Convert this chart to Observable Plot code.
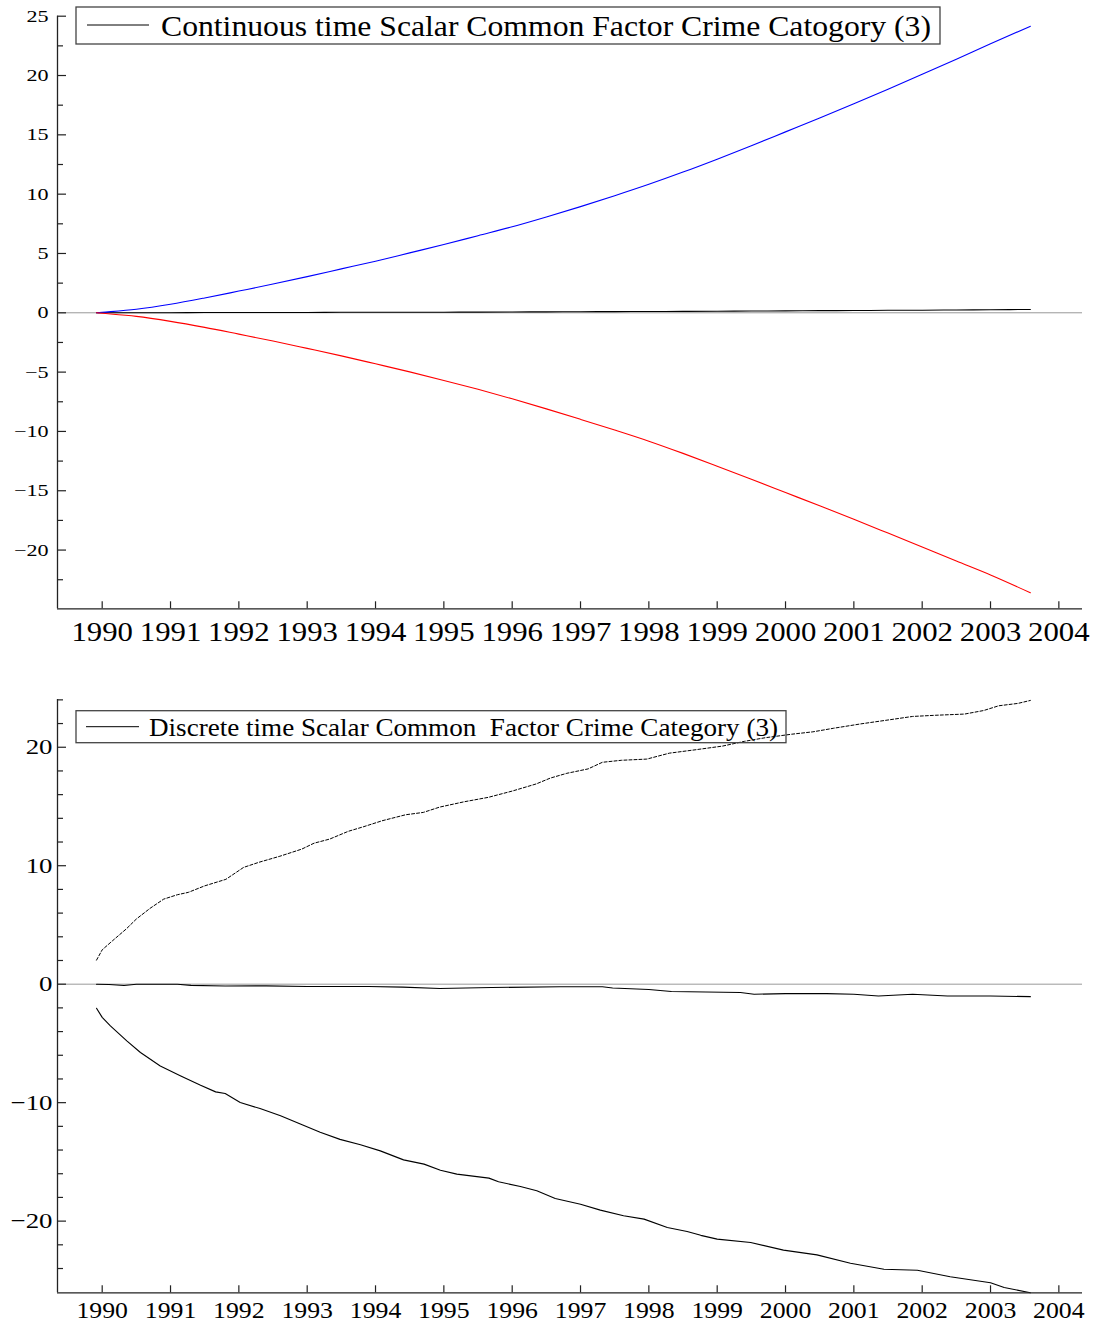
<!DOCTYPE html>
<html>
<head>
<meta charset="utf-8">
<script src="https://cdn.jsdelivr.net/npm/d3@7"></script>
<script src="https://cdn.jsdelivr.net/npm/@observablehq/plot@0.6"></script>
<style>
  html, body { margin: 0; padding: 0; background: #fff; }
  #chart svg { display: block; }
</style>
</head>
<body>
<div id="chart"></div>
<script>
// ---------- data ----------
const yearTicks = [1990, 1991, 1992, 1993, 1994, 1995, 1996, 1997, 1998, 1999, 2000, 2001, 2002, 2003, 2004];

// Top panel: continuous time
const topYears = [1989.917, 1990, 1990.5, 1991, 1991.5, 1992, 1992.5, 1993, 1993.5, 1994, 1994.5, 1995, 1995.5, 1996, 1996.5, 1997, 1997.5, 1998, 1998.5, 1999, 1999.5, 2000, 2000.5, 2001, 2001.5, 2002, 2002.5, 2003, 2003.583];
const topUpper = [0, 0.04, 0.3, 0.72, 1.25, 1.83, 2.42, 3.05, 3.7, 4.35, 5.05, 5.75, 6.5, 7.25, 8.08, 8.95, 9.87, 10.83, 11.86, 12.95, 14.08, 15.25, 16.42, 17.62, 18.85, 20.1, 21.38, 22.68, 24.15];
const topLower = [0, -0.04, -0.3, -0.72, -1.23, -1.8, -2.38, -3.0, -3.63, -4.3, -4.98, -5.7, -6.45, -7.25, -8.1, -8.98, -9.88, -10.82, -11.85, -12.93, -14.03, -15.15, -16.27, -17.4, -18.57, -19.75, -20.93, -22.1, -23.6];
const topMid = [0, 0, 0.01, 0.01, 0.02, 0.02, 0.03, 0.03, 0.04, 0.04, 0.05, 0.05, 0.06, 0.07, 0.08, 0.09, 0.1, 0.11, 0.12, 0.13, 0.15, 0.16, 0.18, 0.19, 0.21, 0.22, 0.24, 0.26, 0.28];
const topMajorTicks = [-20, -15, -10, -5, 0, 5, 10, 15, 20, 25];
const topMinorTicks = [-22.5, -17.5, -12.5, -7.5, -2.5, 2.5, 7.5, 12.5, 17.5, 22.5];
const topLegend = "Continuous time Scalar Common Factor Crime Catogory (3)";

// Bottom panel: discrete time
const upYears = [1989.917, 1990.0, 1990.15, 1990.35, 1990.5, 1990.7, 1990.9, 1991.1, 1991.26, 1991.5, 1991.81, 1992.07, 1992.3, 1992.6, 1992.92, 1993.1, 1993.33, 1993.6, 1993.83, 1994.1, 1994.44, 1994.7, 1994.94, 1995.3, 1995.65, 1996.0, 1996.35, 1996.56, 1996.8, 1997.11, 1997.32, 1997.6, 1997.97, 1998.3, 1998.7, 1999.08, 1999.4, 1999.7, 2000.09, 2000.4, 2000.7, 2001.1, 2001.5, 2001.86, 2002.2, 2002.62, 2002.9, 2003.12, 2003.4, 2003.583];
const upVals = [2.03, 2.9, 3.66, 4.65, 5.5, 6.4, 7.18, 7.55, 7.75, 8.3, 8.85, 9.86, 10.3, 10.8, 11.4, 11.9, 12.25, 12.9, 13.3, 13.8, 14.3, 14.5, 14.95, 15.4, 15.77, 16.3, 16.9, 17.4, 17.8, 18.17, 18.73, 18.9, 19.0, 19.5, 19.8, 20.1, 20.5, 20.8, 21.1, 21.3, 21.6, 21.97, 22.3, 22.6, 22.7, 22.8, 23.1, 23.5, 23.7, 23.95];
const midYears = [1989.917, 1990.1, 1990.32, 1990.5, 1991.1, 1991.3, 1991.8, 1992.4, 1993.0, 1993.9, 1994.4, 1994.94, 1995.7, 1996.7, 1997.32, 1997.47, 1998.0, 1998.33, 1999.34, 1999.54, 2000.0, 2000.6, 2001.0, 2001.36, 2001.86, 2002.37, 2003.0, 2003.583];
const midVals = [0, -0.03, -0.11, 0, 0, -0.1, -0.15, -0.14, -0.2, -0.2, -0.25, -0.37, -0.28, -0.22, -0.22, -0.32, -0.45, -0.62, -0.7, -0.85, -0.8, -0.8, -0.85, -1.0, -0.85, -1.0, -1.0, -1.05];
const lowYears = [1989.917, 1990.0, 1990.12, 1990.36, 1990.56, 1990.85, 1991.15, 1991.44, 1991.66, 1991.8, 1992.02, 1992.31, 1992.61, 1992.9, 1993.19, 1993.48, 1993.78, 1994.07, 1994.41, 1994.71, 1994.95, 1995.19, 1995.66, 1995.8, 1996.12, 1996.36, 1996.63, 1997.0, 1997.29, 1997.63, 1997.93, 1998.27, 1998.56, 1998.76, 1999.0, 1999.49, 1999.97, 2000.46, 2000.95, 2001.44, 2001.93, 2002.41, 2003.0, 2003.2, 2003.583];
const lowVals = [-2.03, -2.8, -3.52, -4.78, -5.77, -6.9, -7.74, -8.53, -9.09, -9.23, -9.99, -10.5, -11.1, -11.8, -12.5, -13.1, -13.56, -14.07, -14.83, -15.19, -15.7, -16.03, -16.37, -16.68, -17.08, -17.44, -18.09, -18.57, -19.07, -19.55, -19.83, -20.54, -20.88, -21.2, -21.52, -21.8, -22.45, -22.85, -23.55, -24.06, -24.15, -24.7, -25.2, -25.6, -26.05];
const botMajorTicks = [-20, -10, 0, 10, 20];
const botMinorTicks = [-24, -22, -18, -16, -14, -12, -8, -6, -4, -2, 2, 4, 6, 8, 12, 14, 16, 18, 22, 24];
const botLegend = "Discrete time Scalar Common  Factor Crime Category (3)";

// ---------- helpers ----------
const W = 1099;
const FONT = "'Liberation Serif', 'Times New Roman', serif";
const xDomain = [1989.346, 2004.346];
const toPts = (xs, ys) => xs.map((x, i) => ({x, y: ys[i]}));
const fmtNum = d => (d < 0 ? "\u2212" + Math.abs(d) : String(d));

function panel({height, marginTop, marginBottom, yDomain, major, minor, series, yFont, xFont, xPad, yPad}) {
  const marginLeft = 57, marginRight = 17;
  const pw = W - marginLeft - marginRight;
  const ph = height - marginTop - marginBottom;
  return Plot.plot({
    width: W, height, marginLeft, marginRight, marginTop, marginBottom,
    style: {fontFamily: FONT, color: "#000", background: "#fff", overflow: "visible"},
    x: {domain: xDomain},
    y: {domain: yDomain},
    marks: [
      Plot.ruleY([0], {stroke: "#999", strokeWidth: 1}),
      ...series,
      Plot.ruleY(major, {insetRight: pw - 9, stroke: "#222", strokeWidth: 1.2}),
      Plot.ruleY(minor, {insetRight: pw - 6, stroke: "#222", strokeWidth: 1.2}),
      Plot.ruleX(yearTicks, {insetTop: ph - 7, stroke: "#222", strokeWidth: 1.2}),
      Plot.ruleX([xDomain[0]], {stroke: "#222", strokeWidth: 1.3}),
      Plot.ruleY([yDomain[0]], {stroke: "#222", strokeWidth: 1.3}),
      Plot.axisY({ticks: major, tickSize: 0, tickPadding: yPad, fontSize: yFont, tickFormat: fmtNum, label: null}),
      Plot.axisX({ticks: yearTicks, tickSize: 0, tickPadding: xPad, fontSize: xFont, tickFormat: d => String(d), label: null})
    ]
  });
}

function stretch(svg, label, factor) {
  svg.querySelectorAll(`g[aria-label="${label}"] text`).forEach(t => {
    const w = t.getComputedTextLength();
    t.setAttribute("textLength", (w * factor).toFixed(2));
    t.setAttribute("lengthAdjust", "spacingAndGlyphs");
  });
}

function legend(svg, {x, y, w, h, lx1, lx2, ly, tx, ty, fontSize, text, textWidth}) {
  const g = d3.select(svg).append("g").attr("aria-label", "legend");
  g.append("rect").attr("x", x).attr("y", y).attr("width", w).attr("height", h)
    .attr("fill", "none").attr("stroke", "#444").attr("stroke-width", 1.3);
  g.append("line").attr("x1", lx1).attr("x2", lx2).attr("y1", ly).attr("y2", ly)
    .attr("stroke", "#000").attr("stroke-width", 1);
  g.append("text").attr("x", tx).attr("y", ty)
    .attr("text-anchor", "start")
    .attr("font-family", FONT).attr("font-size", fontSize).attr("fill", "#000")
    .style("white-space", "pre")
    .attr("textLength", textWidth).attr("lengthAdjust", "spacingAndGlyphs")
    .text(text);
}

// ---------- panels ----------
const container = document.getElementById("chart");

const topChart = panel({
  height: 650, marginTop: 15.7, marginBottom: 41.7,
  yDomain: [-24.95, 25],
  major: topMajorTicks, minor: topMinorTicks,
  yFont: 17, xFont: 27, xPad: 13, yPad: 9,
  series: [
    Plot.line(toPts(topYears, topMid), {x: "x", y: "y", stroke: "#000", strokeWidth: 1.1, curve: "monotone-x"}),
    Plot.line(toPts(topYears, topUpper), {x: "x", y: "y", stroke: "#0000ff", strokeWidth: 1.1, curve: "monotone-x"}),
    Plot.line(toPts(topYears, topLower), {x: "x", y: "y", stroke: "#ff0000", strokeWidth: 1.1, curve: "monotone-x"})
  ]
});
container.appendChild(topChart);

const bottomChart = panel({
  height: 673, marginTop: 49, marginBottom: 30.7,
  yDomain: [-26.05, 24.03],
  major: botMajorTicks, minor: botMinorTicks,
  yFont: 22, xFont: 23, xPad: 8.5, yPad: 5,
  series: [
    Plot.line(toPts(midYears, midVals), {x: "x", y: "y", stroke: "#000", strokeWidth: 1.1}),
    Plot.line(toPts(upYears, upVals), {x: "x", y: "y", stroke: "#000", strokeWidth: 1, strokeDasharray: "3,2"}),
    Plot.line(toPts(lowYears, lowVals), {x: "x", y: "y", stroke: "#000", strokeWidth: 1.1})
  ]
});
container.appendChild(bottomChart);

stretch(topChart, "y-axis tick label", 1.3);
stretch(topChart, "x-axis tick label", 1.14);
stretch(bottomChart, "y-axis tick label", 1.22);
stretch(bottomChart, "x-axis tick label", 1.12);

legend(topChart, {x: 76, y: 7, w: 864, h: 37, lx1: 87, lx2: 149, ly: 25, tx: 161, ty: 36, fontSize: 29, text: topLegend, textWidth: 770});
legend(bottomChart, {x: 76, y: 60.7, w: 710, h: 32, lx1: 86, lx2: 139, ly: 76.7, tx: 149, ty: 86, fontSize: 25, text: botLegend, textWidth: 629});
</script>
</body>
</html>
